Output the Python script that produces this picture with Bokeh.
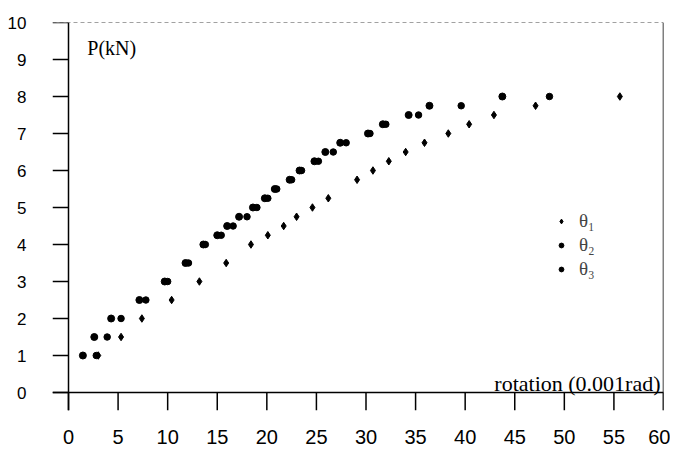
from bokeh.plotting import figure
from bokeh.models import Range1d, Span, Label, Legend, LegendItem, FixedTicker
from bokeh.embed import file_html
from bokeh.resources import INLINE

# theta1 (lower curve)
p1_load = [1.0, 1.5, 2.0, 2.5, 3.0, 3.5, 4.0, 4.25, 4.5, 4.75, 5.0, 5.25, 5.75, 6.0, 6.25, 6.5, 6.75, 7.0, 7.25, 7.5, 7.75, 8.0]
theta1 = [3.0, 5.3, 7.4, 10.4, 13.2, 15.9, 18.4, 20.1, 21.7, 23.0, 24.6, 26.2, 29.1, 30.7, 32.3, 34.0, 35.9, 38.3, 40.4, 42.9, 47.1, 55.6]

# theta2 / theta3 (upper curve)
p23_load = [1.0, 1.5, 2.0, 2.5, 3.0, 3.5, 4.0, 4.25, 4.5, 4.75, 5.0, 5.25, 5.5, 5.75, 6.0, 6.25, 6.5, 6.75, 7.0, 7.25, 7.5, 7.75, 8.0]
theta2 = [1.45, 2.6, 4.3, 7.15, 9.7, 11.8, 13.6, 15.0, 16.0, 17.2, 18.6, 19.8, 20.8, 22.3, 23.3, 24.8, 25.9, 27.4, 30.2, 31.7, 34.3, 36.4, 43.75]
theta3 = [2.8, 3.9, 5.3, 7.8, 10.0, 12.1, 13.8, 15.4, 16.6, 18.0, 19.0, 20.1, 21.0, 22.5, 23.5, 25.2, 26.7, 28.0, 30.4, 32.0, 35.3, 39.6, 48.5]

x_ticks = [0, 5, 10, 15, 20, 25, 30, 35, 40, 45, 50, 55, 60]
y_ticks = [0, 1, 2, 3, 4, 5, 6, 7, 8, 9, 10]

PX_PER_X = 595 / 60.0      # px per 0.001 rad
PX_PER_Y = 370 / 10.0      # px per kN
X_TICK_LEN = 18 / PX_PER_Y  # tick length below the x axis, in y units
Y_TICK_LEN = 16 / PX_PER_X  # tick length left of the y axis, in x units

p = figure(width=670, height=449, output_backend="svg", toolbar_location=None,
           x_range=Range1d(-Y_TICK_LEN, 60), y_range=Range1d(-X_TICK_LEN, 10),
           min_border_left=52, min_border_right=7, min_border_top=22, min_border_bottom=39)
p.grid.visible = False
p.outline_line_color = None

p.xaxis.ticker = FixedTicker(ticks=x_ticks)
p.yaxis.ticker = FixedTicker(ticks=y_ticks)
p.axis.axis_line_color = None
p.axis.major_tick_line_color = None
p.axis.minor_tick_line_color = None
p.axis.major_label_text_font = "Liberation Sans"
p.axis.major_label_text_color = "black"
p.xaxis.major_label_text_font_size = "20px"
p.yaxis.major_label_text_font_size = "17px"
p.xaxis.major_label_standoff = 13
p.yaxis.major_label_standoff = 20

# axis lines and borders
p.add_layout(Span(location=0, dimension="width", line_color="black", line_width=1.5))
p.add_layout(Span(location=0, dimension="height", line_color="black", line_width=1.5))
p.add_layout(Span(location=10, dimension="width", line_color="#444444", line_dash="4 3", line_width=1))
p.add_layout(Span(location=60, dimension="height", line_color="black", line_width=1.5))

# tick marks
p.segment(x0=x_ticks, y0=[-X_TICK_LEN] * len(x_ticks), x1=x_ticks, y1=[0] * len(x_ticks),
          line_color="black", line_width=1.5)
p.segment(x0=[-Y_TICK_LEN] * len(y_ticks), y0=y_ticks, x1=[0] * len(y_ticks), y1=y_ticks,
          line_color="black", line_width=1.5)

r1 = p.scatter(theta1, p1_load, marker="diamond", size=7.5, color="black")
r2 = p.scatter(theta2, p23_load, marker="circle", size=7, color="black")
r3 = p.scatter(theta3, p23_load, marker="circle", size=6.5, color="black")

legend = Legend(items=[LegendItem(label="θ₁", renderers=[r1]),
                       LegendItem(label="θ₂", renderers=[r2]),
                       LegendItem(label="θ₃", renderers=[r3])],
                location=(503, 130), padding=0, margin=0, spacing=2,
                glyph_width=12, glyph_height=16, label_height=16, label_standoff=12,
                label_text_font="Liberation Serif", label_text_font_size="19px",
                background_fill_alpha=0, border_line_color=None)
p.add_layout(legend)

p.add_layout(Label(x=1.9, y=9.62, text="P(kN)", text_baseline="top",
                   text_font="Liberation Serif", text_font_size="20px", text_color="black"))
p.add_layout(Label(x=59.7, y=0.25, text="rotation (0.001rad)", text_align="right",
                   text_baseline="alphabetic", text_font="Liberation Serif",
                   text_font_size="22px", text_color="black"))

open("out.html", "w").write(file_html(p, INLINE))
